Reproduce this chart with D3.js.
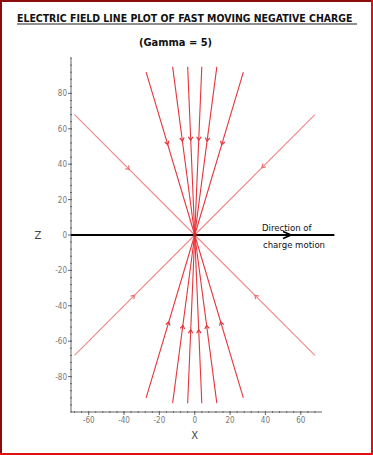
<!DOCTYPE html>
<html>
<head>
<meta charset="utf-8">
<script src="https://cdn.jsdelivr.net/npm/d3@7"></script>
<style>
body { margin: 0; background: #fff; }
svg { display: block; }
</style>
</head>
<body>
<div id="container"></div>
<script>

// field line end points (x, z) - lines run from the charge at origin
var lineX = [-68, -27.5, -12.5, -4, 4, 12.5, 27.5, 68];
var lineZ = [68, 92, 95, 95, 95, 95, 92, 68];
// where the arrow heads sit along each line (z value, top / bottom half)
var arrowTopZ = [37, 51, 53, 53.5, 53.5, 53, 51, 38];
var arrowBotZ = [-34, -49, -51, -53.5, -53.5, -51, -49, -34];

var xTicks = [-60, -40, -20, 0, 20, 40, 60];
var zTicks = [-80, -60, -40, -20, 0, 20, 40, 60, 80];

var width = 373,
    height = 455

var svg = d3.select("div#container").append("svg")
    .attr("width", width)
    .attr("height", height);

var x = d3.scaleLinear().domain([-70, 72]).range([71, 322]);
var z = d3.scaleLinear().domain([-100, 100]).range([412, 58]);

// title
var title = svg.append("text")
    .attr("x", 17).attr("y", 21.5)
    .style("font-family", "'Liberation Sans Narrow', 'DejaVu Sans Condensed', sans-serif")
    .style("font-weight", "bold")
    .style("font-size", "12px")
    .style("fill", "#111")
    .text("ELECTRIC FIELD LINE PLOT OF FAST MOVING NEGATIVE CHARGE");
// squeeze it if the font comes out wider than the space
var tw = title.node().getComputedTextLength();
if (tw > 336) title.style("font-size", (12 * 336 / tw) + "px");

svg.append("line")
    .attr("x1", 17).attr("x2", 357)
    .attr("y1", 24).attr("y2", 24)
    .style("stroke", "#222").style("stroke-width", 1.2);

svg.append("text")
    .attr("x", 175.5).attr("y", 46)
    .attr("text-anchor", "middle")
    .style("font-family", "'DejaVu Sans Condensed', sans-serif")
    .style("font-weight", "bold")
    .style("font-size", "11px")
    .style("fill", "#111")
    .text("(Gamma = 5)");

// axes
var axisColor = "#666";

var gy = svg.append("g");
gy.append("line")
    .attr("x1", x(-70)).attr("x2", x(-70))
    .attr("y1", z(-100)).attr("y2", z(100))
    .style("stroke", axisColor).style("stroke-width", 1);
gy.selectAll(".minor")
    .data(d3.range(-100, 101, 4))
    .enter().append("line")
    .attr("x1", x(-70) - 1).attr("x2", x(-70) + 1)
    .attr("y1", function (d) { return z(d); })
    .attr("y2", function (d) { return z(d); })
    .style("stroke", axisColor);
gy.selectAll(".major")
    .data(zTicks)
    .enter().append("line")
    .attr("x1", x(-70) - 3).attr("x2", x(-70) + 1)
    .attr("y1", function (d) { return z(d); })
    .attr("y2", function (d) { return z(d); })
    .style("stroke", axisColor);
gy.selectAll("text")
    .data(zTicks)
    .enter().append("text")
    .attr("x", x(-70) - 4)
    .attr("y", function (d) { return z(d) + 3; })
    .attr("text-anchor", "end")
    .style("font-family", "'DejaVu Sans Condensed', sans-serif")
    .style("font-size", "8px")
    .style("fill", "#777")
    .text(function (d) { return d; });

var gx = svg.append("g");
gx.append("line")
    .attr("x1", x(-70)).attr("x2", x(72))
    .attr("y1", z(-100)).attr("y2", z(-100))
    .style("stroke", axisColor).style("stroke-width", 1);
gx.selectAll(".minor")
    .data(d3.range(-68, 72, 4))
    .enter().append("line")
    .attr("x1", function (d) { return x(d); })
    .attr("x2", function (d) { return x(d); })
    .attr("y1", z(-100) - 1).attr("y2", z(-100) + 1)
    .style("stroke", axisColor);
gx.selectAll(".major")
    .data(xTicks)
    .enter().append("line")
    .attr("x1", function (d) { return x(d); })
    .attr("x2", function (d) { return x(d); })
    .attr("y1", z(-100) - 1).attr("y2", z(-100) + 3)
    .style("stroke", axisColor);
gx.selectAll("text")
    .data(xTicks)
    .enter().append("text")
    .attr("x", function (d) { return x(d); })
    .attr("y", z(-100) + 11)
    .attr("text-anchor", "middle")
    .style("font-family", "'DejaVu Sans Condensed', sans-serif")
    .style("font-size", "8px")
    .style("fill", "#777")
    .text(function (d) { return d; });

svg.append("text")
    .attr("x", 38).attr("y", 239)
    .attr("text-anchor", "middle")
    .style("font-family", "'DejaVu Sans', sans-serif")
    .style("font-size", "10px")
    .style("fill", "#444")
    .text("Z");

svg.append("text")
    .attr("x", x(0)).attr("y", 439)
    .attr("text-anchor", "middle")
    .style("font-family", "'DejaVu Sans', sans-serif")
    .style("font-size", "10px")
    .style("fill", "#444")
    .text("X");

// field lines, top and bottom halves
var lines = [];
lineX.forEach(function (lx, i) {
    lines.push({ x: lx, z: lineZ[i], a: arrowTopZ[i], diag: Math.abs(lx) > 50 });
    lines.push({ x: lx, z: -lineZ[i], a: arrowBotZ[i], diag: Math.abs(lx) > 50 });
});

svg.selectAll(".field")
    .data(lines)
    .enter().append("line")
    .attr("class", "field")
    .attr("x1", x(0)).attr("y1", z(0))
    .attr("x2", function (d) { return x(d.x); })
    .attr("y2", function (d) { return z(d.z); })
    .style("stroke", function (d) { return d.diag ? "#f08a8a" : "#e4363c"; })
    .style("stroke-width", 1.1);

// arrow heads pointing to the charge
svg.selectAll(".arrow")
    .data(lines)
    .enter().append("path")
    .attr("class", "arrow")
    .attr("d", function (d) {
        var t = d.a / d.z;
        var px = x(d.x * t), py = z(d.z * t);
        var dx = x(0) - x(d.x), dy = z(0) - z(d.z);
        var len = Math.sqrt(dx * dx + dy * dy);
        var ux = dx / len, uy = dy / len;
        var s = 3.5, w = 2.2;
        var bx = px - ux * s, by = py - uy * s;
        return "M" + (bx - uy * w) + "," + (by + ux * w) +
            "L" + px + "," + py +
            "L" + (bx + uy * w) + "," + (by - ux * w);
    })
    .style("fill", "none")
    .style("stroke", function (d) { return d.diag ? "#ee7070" : "#e4363c"; })
    .style("stroke-width", 1.2);

// charge motion line
svg.append("line")
    .attr("x1", x(-70)).attr("x2", x(79))
    .attr("y1", z(0)).attr("y2", z(0))
    .style("stroke", "#000").style("stroke-width", 2);

svg.append("path")
    .attr("d", "M" + (x(54.5) - 8) + "," + (z(0) - 3.5) + "L" + x(54.5) + "," + z(0) +
        "L" + (x(54.5) - 8) + "," + (z(0) + 3.5))
    .style("fill", "none").style("stroke", "#000").style("stroke-width", 1.6);

svg.append("circle")
    .attr("cx", x(0)).attr("cy", z(0)).attr("r", 2)
    .style("fill", "#d0202a");

svg.append("text")
    .attr("x", 262).attr("y", 231)
    .style("font-family", "'DejaVu Sans Condensed', sans-serif")
    .style("font-size", "9.5px")
    .style("fill", "#111")
    .text("Direction of");

svg.append("text")
    .attr("x", 263).attr("y", 248)
    .style("font-family", "'DejaVu Sans Condensed', sans-serif")
    .style("font-size", "9.5px")
    .style("fill", "#111")
    .text("charge motion");

// frame
svg.append("rect")
    .attr("x", 1).attr("y", 1)
    .attr("width", width - 2).attr("height", height - 2)
    .style("fill", "none")
    .style("stroke", "#e01010").style("stroke-width", 2);
svg.append("path")
    .attr("d", "M1," + (height - 2) + "L1,1L" + (width - 2) + ",1")
    .style("fill", "none")
    .style("stroke", "#8a0c0c").style("stroke-width", 2);

</script>
</body>
</html>
